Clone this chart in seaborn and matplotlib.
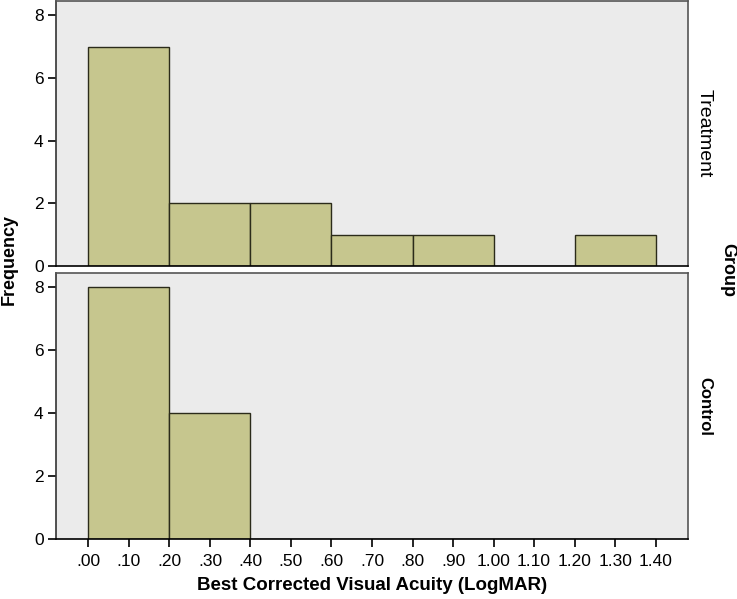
import numpy as np
import pandas as pd
import matplotlib
matplotlib.use('Agg')
import matplotlib.pyplot as plt
import seaborn as sns

# bin edges (LogMAR) and counts
bin_edges = [0.0, 0.2, 0.4, 0.6, 0.8, 1.0, 1.2, 1.4]
treatment_counts = [7, 2, 2, 1, 1, 0, 1]
control_counts = [8, 4, 0, 0, 0, 0, 0]
groups = ["Treatment", "Control"]
xtick_vals = [round(0.1 * i, 2) for i in range(15)]
xtick_labels = [".00", ".10", ".20", ".30", ".40", ".50", ".60", ".70",
                ".80", ".90", "1.00", "1.10", "1.20", "1.30", "1.40"]
ytick_vals = [0, 2, 4, 6, 8]

mids = [(a + b) / 2 for a, b in zip(bin_edges[:-1], bin_edges[1:])]
df = pd.DataFrame({
    "mid": mids * 2,
    "count": treatment_counts + control_counts,
    "Group": ["Treatment"] * len(mids) + ["Control"] * len(mids),
})

sns.set_style("white")
plt.rcParams['font.family'] = ['Liberation Sans', 'DejaVu Sans']
plt.rcParams['text.color'] = 'black'
plt.rcParams['xtick.color'] = 'black'
plt.rcParams['ytick.color'] = 'black'

fig = plt.figure(figsize=(7.37, 5.99), dpi=100)
ax_top = fig.add_axes([0.076, 0.556, 0.8575, 0.442])
ax_bot = fig.add_axes([0.076, 0.100, 0.8575, 0.444])

bar_color = "#C6C68E"
label_style = {"Treatment": dict(fontsize=14, fontweight="normal"),
               "Control": dict(fontsize=12, fontweight="bold")}
for ax, g in zip([ax_top, ax_bot], groups):
    sub = df[df["Group"] == g]
    sns.histplot(data=sub, x="mid", weights="count", bins=bin_edges, ax=ax,
                 color=bar_color, edgecolor="#2b2b1a", linewidth=1.0, alpha=1)
    ax.set_facecolor("#EBEBEB")
    ax.set_xlim(-0.08, 1.48)
    ax.set_ylim(0, 8.45)
    ax.set_yticks(ytick_vals)
    ax.set_ylabel("")
    ax.set_xlabel("")
    for s in ax.spines.values():
        s.set_color("#555555")
        s.set_linewidth(1.2)
    ax.spines["bottom"].set_color("black")
    ax.spines["left"].set_color("#333333")
    ax.tick_params(axis="y", left=True, length=6, width=1.2, color="black",
                   labelcolor="black", labelsize=12.5, pad=3)
    ax.text(1.026, 0.5, g, transform=ax.transAxes, rotation=-90,
            ha="center", va="center", **label_style[g])

ax_top.set_xticks(xtick_vals)
ax_top.tick_params(axis="x", bottom=False, labelbottom=False)
ax_bot.set_xticks(xtick_vals)
ax_bot.set_xticklabels(xtick_labels)
ax_bot.tick_params(axis="x", bottom=True, length=6, width=1.2, color="black",
                   labelcolor="black", labelsize=12.5, pad=5)

fig.text(0.987, 0.549, "Group", rotation=-90, ha="center", va="center",
         fontsize=13, fontweight="bold")
fig.text(0.012, 0.566, "Frequency", rotation=90, ha="center", va="center",
         fontsize=13, fontweight="bold")
fig.text(0.505, 0.022, "Best Corrected Visual Acuity (LogMAR)", ha="center",
         va="center", fontsize=13.5, fontweight="bold")

fig.savefig("out.png", dpi=100)
